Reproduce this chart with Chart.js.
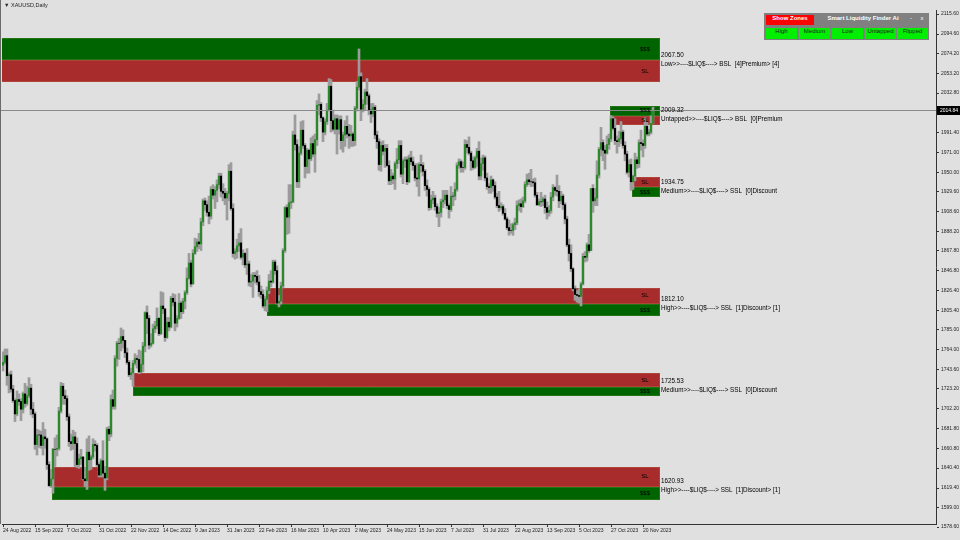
<!DOCTYPE html>
<html>
<head>
<meta charset="utf-8">
<script src="https://cdn.jsdelivr.net/npm/chart.js@4.4.0/dist/chart.umd.min.js"></script>
<style>
  html, body { margin: 0; padding: 0; background: #e0e0e0; }
  #wrap { position: relative; width: 960px; height: 540px; overflow: hidden; }
  #chart { position: absolute; left: 0; top: 0; }
  .title { position: absolute; left: 4px; top: 2px; font: 5.5px "Liberation Sans", Arial, sans-serif; color: #222; }
  #panel { position: absolute; left: 764px; top: 13px; width: 165px; height: 27px; background: #808080; }
  #panel div { position: absolute; font: 6px "Liberation Sans", Arial, sans-serif; text-align: center; }
  .red { background: #ff0000; color: #fff; top: 2px; height: 10px; line-height: 10px; font-weight: bold !important; }
  .grn { background: #00ee00; color: #222; top: 15px; height: 11px; line-height: 11px; width: 31px; }
  .ptitle { color: #fff; top: 2px; left: 56px; width: 86px; line-height: 10px; font-weight: bold !important; }
  .ctl { color: #fff; top: 2px; line-height: 10px; width: 6px; }
</style>
</head>
<body>
<div id="wrap">
  <canvas id="chart" width="960" height="540"></canvas>
  <div class="title">&#9660; XAUUSD,Daily</div>
  <div id="panel">
    <div class="red" style="left:2px;width:48px">Show Zones</div>
    <div class="ptitle">Smart Liquidity Finder Ai</div>
    <div class="ctl" style="left:144px">-</div>
    <div class="ctl" style="left:155px">x</div>
    <div class="grn" style="left:2px">High</div>
    <div class="grn" style="left:35px">Medium</div>
    <div class="grn" style="left:68px">Low</div>
    <div class="grn" style="left:101px">Untapped</div>
    <div class="grn" style="left:133px">Flipped</div>
  </div>
</div>
<script>
// date label every 16 daily bars, starting at bar 0
var dateTicks = ["24 Aug 2022", "15 Sep 2022", "7 Oct 2022", "31 Oct 2022", "22 Nov 2022", "14 Dec 2022",
  "9 Jan 2023", "31 Jan 2023", "22 Feb 2023", "16 Mar 2023", "10 Apr 2023", "2 May 2023", "24 May 2023",
  "15 Jun 2023", "7 Jul 2023", "31 Jul 2023", "22 Aug 2023", "13 Sep 2023", "5 Oct 2023", "27 Oct 2023", "20 Nov 2023"];

var priceTicks = [2115.60, 2094.60, 2074.20, 2053.20, 2032.80, 1991.40, 1971.00, 1950.00, 1929.60, 1908.60,
  1888.20, 1867.80, 1846.80, 1826.40, 1805.40, 1785.00, 1764.00, 1743.60, 1723.20, 1702.20, 1681.80,
  1660.80, 1640.40, 1619.40, 1599.00, 1578.60];

// XAUUSD daily bars (open = previous close)
var firstOpen = 1748;
var closes = [
  1751,1758,1737,1738,1723,1711,1697,1712,1710,1702,1718,1708,1716,1724,1702,1697,
  1665,1675,1675,1664,1673,1671,1644,1622,1629,1660,1660,1661,1700,1726,1716,1713,
  1694,1668,1666,1673,1666,1644,1650,1652,1629,1627,1657,1649,1652,1665,1664,1644,
  1633,1648,1635,1630,1681,1676,1712,1705,1755,1771,1771,1778,1774,1761,1751,1738,
  1740,1750,1755,1754,1741,1749,1768,1803,1797,1769,1771,1786,1789,1797,1781,1810,
  1807,1777,1793,1788,1818,1814,1792,1797,1813,1804,1815,1824,1839,1855,1833,1865,
  1872,1877,1875,1898,1920,1916,1908,1904,1932,1926,1931,1937,1946,1930,1928,1923,
  1928,1951,1912,1865,1867,1873,1876,1861,1865,1853,1854,1835,1836,1842,1841,1835,
  1825,1822,1810,1817,1826,1836,1835,1856,1847,1813,1815,1831,1868,1913,1903,1918,
  1919,1989,1979,1940,1970,1994,1978,1956,1973,1964,1980,1969,1984,2020,2021,2007,
  1992,2003,2015,2040,2004,1995,2006,1995,2005,1983,1989,1998,1990,1988,1990,1983,
  2017,2039,2050,2016,2021,2034,2030,2015,2011,2018,1989,1982,1958,1978,1972,1975,
  1957,1941,1946,1943,1959,1963,1978,1948,1962,1963,1940,1965,1961,1957,1944,1943,
  1958,1957,1951,1936,1932,1913,1921,1923,1914,1907,1908,1919,1921,1926,1915,1911,
  1925,1925,1932,1957,1961,1955,1955,1979,1976,1970,1962,1955,1965,1972,1946,1959,
  1965,1944,1935,1934,1942,1936,1924,1915,1913,1914,1907,1901,1892,1889,1889,1895,
  1897,1915,1917,1914,1920,1937,1942,1940,1940,1939,1926,1916,1919,1919,1922,1913,
  1908,1910,1924,1934,1931,1930,1920,1925,1916,1901,1874,1865,1849,1828,1822,1821,
  1820,1833,1862,1861,1874,1868,1933,1920,1923,1947,1974,1981,1973,1970,1979,1985,
  2006,1996,1983,1982,1985,1992,1978,1969,1950,1958,1940,1946,1963,1959,1981,1980,
  1978,1998,1990,1992,2001,2014.84];
var highs = [
  1762,1765,1765,1740,1742,1727,1713,1721,1718,1713,1720,1729,1726,1735,1728,1709,
  1699,1681,1680,1679,1688,1681,1672,1647,1639,1661,1672,1675,1704,1730,1729,1722,
  1716,1697,1676,1680,1678,1672,1655,1660,1652,1641,1671,1674,1654,1671,1669,1666,
  1646,1650,1669,1642,1683,1684,1717,1722,1758,1773,1776,1787,1785,1774,1766,1753,
  1745,1753,1760,1758,1764,1763,1772,1804,1810,1800,1781,1791,1794,1808,1798,1825,
  1824,1807,1798,1798,1820,1823,1822,1800,1823,1815,1818,1826,1850,1865,1858,1869,
  1881,1880,1886,1902,1922,1923,1920,1925,1935,1937,1935,1942,1949,1949,1938,1933,
  1930,1958,1960,1917,1870,1880,1886,1891,1869,1866,1870,1857,1843,1845,1845,1847,
  1842,1831,1827,1820,1830,1843,1847,1858,1858,1852,1821,1835,1870,1914,1916,1937,
  1937,1993,2010,1984,1977,2003,2004,1980,1975,1974,1986,1988,1990,2025,2032,2023,
  2008,2006,2022,2048,2047,2015,2010,2010,2009,2009,1992,2004,2009,2000,1999,1992,
  2019,2045,2079,2054,2026,2037,2048,2032,2022,2022,2020,1993,1985,1982,1983,1979,
  1979,1962,1953,1949,1961,1975,1983,1983,1964,1966,1966,1968,1972,1966,1959,1959,
  1960,1968,1960,1953,1942,1934,1926,1930,1926,1917,1913,1922,1931,1931,1931,1917,
  1935,1929,1939,1960,1964,1963,1961,1984,1983,1987,1972,1966,1967,1975,1982,1965,
  1968,1967,1949,1938,1946,1943,1940,1928,1930,1918,1916,1912,1903,1900,1896,1897,
  1902,1920,1921,1922,1924,1940,1948,1949,1953,1943,1944,1929,1922,1929,1924,1926,
  1919,1915,1929,1937,1935,1947,1936,1930,1927,1918,1904,1880,1874,1850,1831,1826,
  1828,1835,1865,1867,1876,1885,1933,1937,1933,1962,1976,1997,1984,1978,1988,1990,
  2009.3,2008,2006,1988,1993,2003,1994,1982,1972,1963,1964,1947,1970,1966,1984,1994,
  1984,2007,2002,1995,2009,2018];
var lows = [
  1742,1749,1727,1719,1720,1709,1689,1695,1706,1690,1698,1704,1706,1714,1696,1693,
  1660,1654,1662,1661,1654,1661,1639,1621,1620,1614,1642,1653,1659,1698,1707,1707,
  1690,1663,1659,1660,1642,1641,1640,1644,1628,1621,1618,1638,1639,1650,1658,1642,
  1631,1631,1631,1617,1628,1669,1673,1702,1702,1747,1754,1763,1766,1756,1749,1736,
  1733,1726,1748,1745,1739,1740,1741,1762,1781,1765,1767,1770,1782,1786,1779,1780,
  1802,1773,1776,1784,1787,1810,1784,1788,1796,1797,1802,1807,1822,1838,1830,1833,
  1864,1867,1870,1868,1894,1910,1904,1896,1901,1922,1912,1919,1933,1924,1920,1916,
  1900,1920,1910,1861,1859,1860,1867,1859,1853,1850,1843,1831,1830,1819,1834,1832,
  1820,1818,1808,1805,1804,1823,1830,1834,1843,1812,1809,1812,1829,1866,1885,1886,
  1912,1918,1973,1934,1934,1968,1975,1944,1949,1949,1962,1966,1950,1978,2010,2003,
  1982,1989,2000,2014,1992,1993,1990,1969,1990,1974,1971,1977,1986,1975,1977,1977,
  1978,2014,2036,2004,2013,2015,2021,2010,2002,2008,1985,1975,1952,1951,1968,1955,
  1956,1937,1937,1938,1932,1954,1959,1945,1938,1955,1937,1939,1958,1952,1941,1935,
  1925,1950,1946,1931,1925,1910,1911,1917,1910,1903,1893,1903,1913,1917,1912,1902,
  1909,1915,1921,1930,1954,1950,1950,1953,1970,1968,1952,1953,1954,1956,1942,1942,
  1952,1941,1932,1928,1928,1930,1922,1913,1909,1911,1905,1900,1890,1884,1886,1884,
  1890,1895,1910,1908,1913,1918,1935,1937,1935,1935,1924,1915,1915,1914,1915,1907,
  1901,1904,1907,1920,1926,1925,1913,1917,1911,1896,1872,1857,1846,1826,1816,1814,
  1813,1810,1832,1856,1857,1866,1868,1908,1915,1915,1944,1967,1962,1953,1969,1974,
  1982,1994,1979,1970,1977,1980,1975,1962,1948,1945,1931,1932,1941,1954,1955,1973,
  1966,1975,1988,1988,1990,2001];
var lastPrice = 2014.84;

// liquidity zones: level line, outer edges, first bar, side
var zoneLevels  = [2067.50, 2009.32, 1934.75, 1812.10, 1725.53, 1620.93];
var zoneTops    = [2090.5, 2019.5, 1945.0, 1829.3, 1739.8, 1641.5];
var zoneBottoms = [2044.5, 1999.3, 1924.0, 1799.0, 1716.0, 1607.0];
var zoneStarts  = [-1, 303.5, 314.5, 132, 65, 24.5];
var zoneEnd = 328.5;
var zoneSides = ["BSL", "BSL", "SSL", "SSL", "SSL", "SSL"];
var zoneNotes = [
  "Low>>----$LIQ$----> BSL  [4]Premium> [4]",
  "Untapped>>----$LIQ$----> BSL  [0]Premium",
  "Medium>>----$LIQ$----> SSL  [0]Discount",
  "High>>----$LIQ$----> SSL  [1]Discount> [1]",
  "Medium>>----$LIQ$----> SSL  [0]Discount",
  "High>>----$LIQ$----> SSL  [1]Discount> [1]"];

var GREEN = "#006400", RED = "#a82c2c";
var FONT = '"Liberation Sans", Arial, sans-serif';

var opens = closes.map(function(c, i) { return i === 0 ? firstOpen : closes[i - 1]; });

var zonesPlugin = {
  id: "zones",
  beforeDatasetsDraw: function(chart) {
    var ctx = chart.ctx, a = chart.chartArea, xs = chart.scales.x, ys = chart.scales.y;
    ctx.save();
    ctx.beginPath();
    ctx.rect(a.left, a.top, a.right - a.left, a.bottom - a.top);
    ctx.clip();
    zoneLevels.forEach(function(lv, k) {
      var x1 = Math.round(xs.getPixelForValue(zoneStarts[k]));
      var x2 = Math.round(xs.getPixelForValue(zoneEnd));
      var yt = Math.round(ys.getPixelForValue(zoneTops[k]));
      var ym = Math.round(ys.getPixelForValue(lv));
      var yb = Math.round(ys.getPixelForValue(zoneBottoms[k]));
      var up = zoneSides[k] === "BSL" ? GREEN : RED;
      var dn = zoneSides[k] === "BSL" ? RED : GREEN;
      ctx.fillStyle = up;
      ctx.fillRect(x1, yt, x2 - x1, ym - yt);
      ctx.fillStyle = dn;
      ctx.fillRect(x1, ym, x2 - x1, yb - ym);
      ctx.setLineDash([1, 1]);
      ctx.lineWidth = 1;
      ctx.strokeStyle = "rgba(210,190,120,0.35)";
      ctx.strokeRect(x1 + 0.5, yt + 0.5, x2 - x1 - 1, ym - yt - 1);
      ctx.strokeRect(x1 + 0.5, ym + 0.5, x2 - x1 - 1, yb - ym - 1);
      ctx.setLineDash([]);
    });
    ctx.restore();
  },
  afterDatasetsDraw: function(chart) {
    var ctx = chart.ctx, a = chart.chartArea, xs = chart.scales.x, ys = chart.scales.y;
    ctx.save();
    // current price line
    var py = Math.round(ys.getPixelForValue(lastPrice)) + 0.5;
    ctx.strokeStyle = "#8a8a8a";
    ctx.lineWidth = 1;
    ctx.beginPath();
    ctx.moveTo(0, py);
    ctx.lineTo(a.right, py);
    ctx.stroke();
    // zone labels
    zoneLevels.forEach(function(lv, k) {
      var x2 = Math.round(xs.getPixelForValue(zoneEnd));
      var yt = ys.getPixelForValue(zoneTops[k]);
      var ym = ys.getPixelForValue(lv);
      var yb = ys.getPixelForValue(zoneBottoms[k]);
      var upTxt = zoneSides[k] === "BSL" ? "$$$" : "SL";
      var dnTxt = zoneSides[k] === "BSL" ? "SL" : "$$$";
      ctx.fillStyle = "#000";
      ctx.font = "6px " + FONT;
      ctx.textAlign = "center";
      ctx.textBaseline = "middle";
      ctx.fillText(upTxt, x2 - 15, (yt + ym) / 2);
      ctx.fillText(dnTxt, x2 - 15, (ym + yb) / 2);
      ctx.textAlign = "left";
      ctx.font = "6.3px " + FONT;
      ctx.fillText(lv.toFixed(2), x2 + 1, ym - 5);
      ctx.fillText(zoneNotes[k], x2 + 1, ym + 4);
    });
    ctx.restore();
  },
  afterDraw: function(chart) {
    var ctx = chart.ctx, a = chart.chartArea, ys = chart.scales.y;
    ctx.save();
    var py = Math.round(ys.getPixelForValue(lastPrice));
    ctx.fillStyle = "#000";
    ctx.fillRect(a.right + 1, py - 4, 23, 9);
    ctx.fillStyle = "#fff";
    ctx.font = "5px " + FONT;
    ctx.textAlign = "left";
    ctx.textBaseline = "middle";
    ctx.fillText(lastPrice.toFixed(2), a.right + 4, py + 0.5);
    // window frame
    ctx.strokeStyle = "#6a6a6a";
    ctx.beginPath();
    ctx.moveTo(0.5, 0);
    ctx.lineTo(0.5, a.bottom);
    ctx.stroke();
    ctx.restore();
  }
};

new Chart(document.getElementById("chart"), {
  type: "bar",
  data: {
    datasets: [{
      label: "wicks",
      data: closes.map(function(c, i) { return { x: i, y: [lows[i], highs[i]] }; }),
      backgroundColor: "#9c9c9c",
      barThickness: 2,
      grouped: false,
      order: 1
    }, {
      label: "bodies",
      data: closes.map(function(c, i) { return { x: i, y: [opens[i], c] }; }),
      backgroundColor: closes.map(function(c, i) { return c > opens[i] ? "#2a8a2a" : "#000000"; }),
      barThickness: 1.5,
      grouped: false,
      order: 0
    }]
  },
  options: {
    responsive: false,
    animation: false,
    devicePixelRatio: 1,
    layout: { padding: { left: 2, top: 10, right: 0, bottom: 0 } },
    plugins: { legend: { display: false }, tooltip: { enabled: false } },
    scales: {
      x: {
        type: "linear",
        offset: false,
        min: -0.5,
        max: 466.5,
        afterBuildTicks: function(s) { s.ticks = dateTicks.map(function(d, k) { return { value: k * 16 }; }); },
        afterFit: function(s) { s.height = 16; },
        ticks: {
          autoSkip: false, maxRotation: 0, align: "start", padding: 1, color: "#222",
          font: { family: FONT, size: 5 },
          callback: function(v) { return dateTicks[Math.round(v / 16)]; }
        },
        grid: { display: true, offset: false, drawOnChartArea: false, tickLength: 3, color: "#333" },
        border: { display: true, color: "#333" }
      },
      y: {
        position: "right",
        min: 1581.8,
        max: 2119.8,
        afterBuildTicks: function(s) { s.ticks = priceTicks.map(function(v) { return { value: v }; }); },
        afterFit: function(s) { s.width = 24; },
        ticks: {
          autoSkip: false, padding: 2, color: "#222",
          font: { family: FONT, size: 5 },
          callback: function(v) { return v.toFixed(2); }
        },
        grid: { display: true, drawOnChartArea: false, tickLength: 3, color: "#333" },
        border: { display: true, color: "#333" }
      }
    }
  },
  plugins: [zonesPlugin]
});
</script>
</body>
</html>
